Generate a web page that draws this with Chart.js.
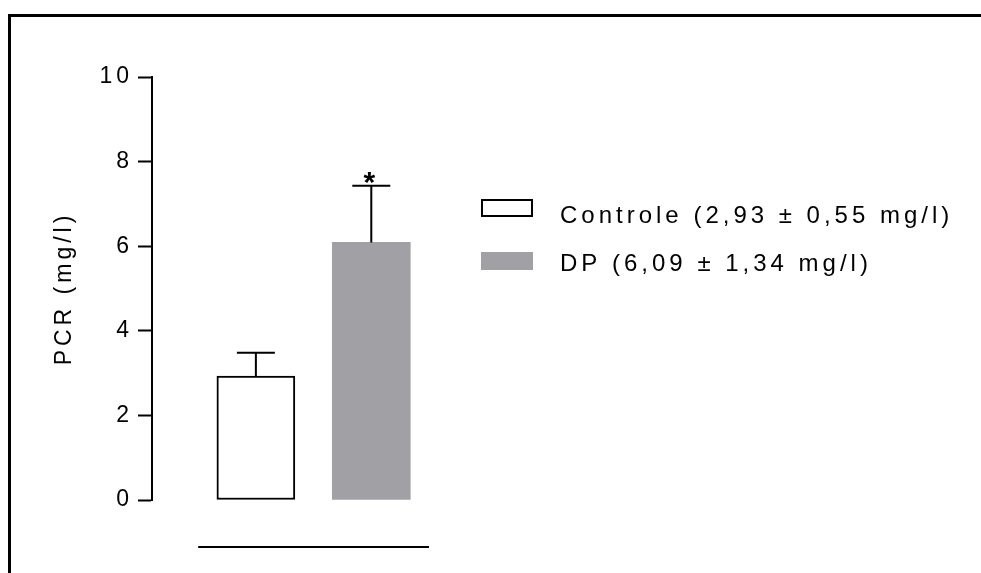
<!DOCTYPE html>
<html>
<head>
<meta charset="utf-8">
<title>PCR</title>
<script src="https://cdn.jsdelivr.net/npm/chart.js"></script>
<style>
  body { margin: 0; background: #fff; overflow: hidden; }
  #moldura { position: absolute; left: 8px; top: 14px; width: 970px; height: 556px; border-top: 3px solid #000; border-left: 3px solid #000; }
  #grafico { position: absolute; left: 0; top: 0; }
</style>
</head>
<body>
<div id="moldura"></div>
<canvas id="grafico" width="981" height="573"></canvas>
<script>
const grupos = ["Controle", "DP"];
const medias = [2.93, 6.09];
const desvios = [0.55, 1.34];
const marcas = ["", "*"];
const ticksY = [0, 2, 4, 6, 8, 10];
const cores = ["#ffffff", "#a1a0a5"];
const bordas = [2, 0];

const fonte = "Arial, 'Liberation Sans', sans-serif";

function fmt(v) {
  return v.toFixed(2).replace(".", ",");
}

const datasets = grupos.map(function (g, i) {
  return {
    label: `${g} (${fmt(medias[i])} ± ${fmt(desvios[i])} mg/l)`,
    data: [{ x: i, y: medias[i] }],
    backgroundColor: cores[i],
    borderColor: "#000",
    borderWidth: bordas[i],
    borderSkipped: false,
    barThickness: 78,
    grouped: false,
  };
});

// espaçamento entre letras como no original
const espacamento = {
  id: "espacamento",
  beforeDraw(chart) {
    chart.ctx.letterSpacing = "4px";
  },
};

const barrasErro = {
  id: "barrasErro",
  afterDatasetsDraw(chart) {
    const ctx = chart.ctx;
    const y = chart.scales.y;
    const x = chart.scales.x;
    ctx.save();
    ctx.strokeStyle = "#000";
    ctx.lineWidth = 2;
    chart.data.datasets.forEach(function (ds, i) {
      const barra = chart.getDatasetMeta(i).data[0];
      const topo = y.getPixelForValue(medias[i] + desvios[i]);
      ctx.beginPath();
      ctx.moveTo(barra.x, barra.y);
      ctx.lineTo(barra.x, topo);
      ctx.moveTo(barra.x - 19, topo);
      ctx.lineTo(barra.x + 19, topo);
      ctx.stroke();
      if (marcas[i]) {
        ctx.fillStyle = "#000";
        ctx.font = "bold 30px " + fonte;
        ctx.letterSpacing = "0px";
        ctx.textAlign = "center";
        ctx.textBaseline = "alphabetic";
        ctx.fillText(marcas[i], barra.x - 2, topo + 6);
      }
    });
    // linha do eixo x, separada do eixo y
    const base = chart.chartArea.bottom + 47;
    ctx.beginPath();
    ctx.moveTo(x.getPixelForValue(-0.5), base);
    ctx.lineTo(x.getPixelForValue(grupos.length - 0.5), base);
    ctx.stroke();
    ctx.restore();
  },
};

const legenda = {
  id: "legenda",
  afterDraw(chart) {
    const ctx = chart.ctx;
    const x = chart.chartArea.right + 52;
    ctx.save();
    ctx.font = "24px " + fonte;
    ctx.letterSpacing = "4px";
    ctx.textAlign = "left";
    ctx.textBaseline = "alphabetic";
    chart.data.datasets.forEach(function (ds, i) {
      const y = 199 + i * 53;
      ctx.fillStyle = ds.backgroundColor;
      ctx.fillRect(x, y, 52, 18);
      if (ds.borderWidth) {
        ctx.strokeStyle = "#000";
        ctx.lineWidth = 2;
        ctx.strokeRect(x + 1, y + 1, 50, 16);
      }
      ctx.fillStyle = "#000";
      ctx.fillText(ds.label, x + 79, 223 + i * 48);
    });
    ctx.restore();
  },
};

const ctx = document.getElementById("grafico").getContext("2d");
const grafico = new Chart(ctx, {
  type: "bar",
  data: { datasets: datasets },
  plugins: [espacamento, barrasErro, legenda],
  options: {
    responsive: false,
    animation: false,
    layout: { padding: { left: 0, top: 77, right: 552, bottom: 73 } },
    plugins: { legend: { display: false }, tooltip: { enabled: false } },
    scales: {
      x: {
        type: "linear",
        min: -0.9,
        max: 1.5,
        offset: false,
        display: false,
      },
      y: {
        min: 0,
        max: 10,
        afterFit(scale) {
          scale.width = 152;
        },
        afterBuildTicks(scale) {
          scale.ticks = ticksY.map((v) => ({ value: v }));
        },
        ticks: {
          color: "#000",
          padding: 5,
          font: { family: fonte, size: 23 },
        },
        grid: {
          drawOnChartArea: false,
          tickLength: 14,
          tickColor: "#000",
          tickWidth: 2,
        },
        border: { display: true, color: "#000", width: 2 },
        title: {
          display: true,
          text: "PCR (mg/l)",
          color: "#000",
          font: { family: fonte, size: 23 },
          padding: { top: 51, bottom: 0 },
        },
      },
    },
  },
});
</script>
</body>
</html>
